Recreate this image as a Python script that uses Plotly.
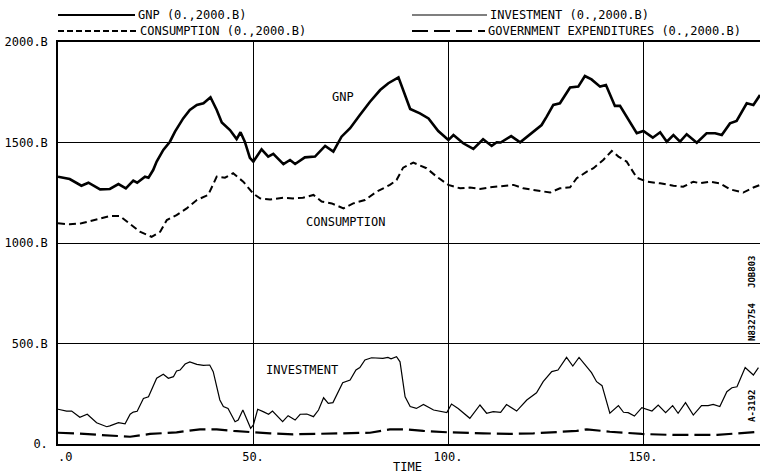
import plotly.graph_objects as go

# ---- data ----
gnp_t = [0, 3, 6, 7.8, 10.8, 13.3, 15.5, 17.4, 19.3, 20.3, 22.3, 23.2, 24.4, 25.3, 27, 28.7, 30, 32.1,
         33.8, 35.6, 37.3, 39.1, 40.7, 42, 44.1, 45.8, 46.8, 47.9, 49.2, 50.1, 52.2, 53.9, 55.2, 57.8,
         59.5, 60.8, 63.3, 65.9, 68.5, 70.6, 72.7, 74.9, 77.4, 80, 82.6, 84.7, 87.3, 89, 90.3, 92.8,
         95, 97.5, 100.1, 101.4, 103.9, 106.5, 109, 111.2, 112.5, 113.5, 116.2, 118.5, 121.9, 124,
         125.3, 127, 128.7, 131.3, 133.4, 135.1, 136.8, 139, 140.5, 142.8, 144.1, 146.2, 148.4, 150.1,
         152.5, 154.4, 156.1, 157.8, 159.5, 161.2, 163.8, 166.3, 168.5, 170.2, 172.3, 174, 176.6,
         178.3, 180]
gnp_v = [1330, 1318, 1285, 1300, 1267, 1269, 1293, 1272, 1310, 1300, 1330, 1325, 1363, 1405, 1463, 1504,
         1554, 1620, 1662, 1687, 1695, 1725, 1662, 1600, 1562, 1517, 1551, 1504, 1424, 1405, 1466, 1430,
         1443, 1392, 1413, 1393, 1426, 1430, 1483, 1455, 1529, 1571, 1637, 1703, 1761, 1795, 1824, 1736,
         1667, 1645, 1620, 1557, 1512, 1537, 1496, 1468, 1516, 1483, 1501, 1500, 1532, 1501, 1554, 1587,
         1629, 1687, 1695, 1774, 1778, 1831, 1814, 1778, 1786, 1682, 1682, 1612, 1546, 1557, 1524, 1551,
         1504, 1537, 1504, 1541, 1499, 1546, 1546, 1537, 1595, 1607, 1695, 1687, 1736]

cons_t = [0, 3, 6, 9, 10.8, 13.3, 15.9, 18.5, 21, 24, 26.2, 27.9, 30.4, 33, 35.6, 38.5, 40.7, 42.8, 44.9,
          47.5, 50.1, 51.8, 54.4, 57.8, 60.3, 62.8, 65.5, 67.6, 70.2, 73.2, 75.7, 78.7, 81.7, 85.1, 86.8,
          88.5, 91.1, 94.5, 97.1, 100.1, 103.1, 105.6, 108.2, 110.8, 113.5, 116.8, 119.3, 121.9, 126.2,
          128.7, 131.3, 133, 135.6, 137.3, 139.8, 142, 143.7, 145.8, 148.4, 151, 154.4, 157.8, 160.3,
          162.9, 164.6, 167.2, 169.7, 172.3, 175.7, 178.3, 180]
cons_v = [1098, 1093, 1098, 1114, 1123, 1134, 1134, 1093, 1056, 1031, 1056, 1114, 1139, 1172, 1214, 1239,
          1330, 1325, 1347, 1305, 1245, 1222, 1217, 1225, 1222, 1225, 1239, 1206, 1197, 1172, 1197, 1214,
          1255, 1289, 1313, 1375, 1400, 1372, 1330, 1289, 1272, 1276, 1269, 1277, 1282, 1289, 1272, 1264,
          1251, 1272, 1277, 1322, 1355, 1372, 1413, 1458, 1430, 1405, 1325, 1305, 1297, 1285, 1280, 1305,
          1297, 1305, 1297, 1267, 1251, 1276, 1289]

inv_t = [0, 2.2, 3.5, 5.6, 7.5, 9.9, 12.5, 13.3, 15.5, 17.2, 18.5, 19.3, 20.3, 21.9, 23.2, 25.3, 27, 28.3,
         29.6, 30.4, 31.3, 32.6, 33.8, 35.6, 37.3, 38.9, 39.8, 41.5, 42.4, 43.6, 45.4, 46.2, 47.4, 48.4,
         49.4, 50.1, 51.2, 52.6, 54, 55, 56.3, 57.6, 59, 60.8, 62.1, 63.8, 65.5, 66.8, 68.1, 69.3, 70.5,
         73, 74.9, 76.4, 77.4, 78.7, 80.4, 82.1, 83.3, 84.6, 85.4, 86.8, 87.7, 89, 90.3, 91.9, 93.7, 96.3,
         99.7, 100.9, 102.6, 105.6, 108.2, 109.9, 111.6, 113.5, 115, 117.6, 120.2, 122.7, 124.4, 126.6,
         128.2, 130.4, 132, 133.6, 135.1, 136.8, 138.1, 139.5, 141.5, 143.7, 145, 146.2, 147.8, 149.7,
         152.3, 153.9, 155.8, 157.6, 159, 160.9, 162.9, 165, 166.7, 168, 169.7, 171.5, 172.8, 174.1,
         176.2, 178.3, 179.6]
inv_v = [173, 164, 164, 133, 148, 106, 86, 90, 106, 100, 148, 159, 163, 227, 235, 327, 347, 327, 335, 363,
         368, 398, 408, 396, 391, 393, 360, 219, 186, 177, 111, 119, 169, 119, 78, 95, 173, 161, 148, 164,
         136, 111, 141, 119, 148, 149, 136, 169, 230, 202, 206, 305, 318, 368, 380, 418, 429, 426, 426, 431,
         424, 434, 409, 235, 186, 177, 197, 169, 156, 199, 177, 128, 194, 153, 161, 157, 196, 164, 219, 255,
         310, 360, 368, 431, 388, 431, 393, 355, 310, 290, 153, 191, 158, 156, 139, 181, 164, 194, 156, 191,
         153, 206, 144, 191, 191, 197, 186, 260, 280, 285, 380, 343, 380]

gov_t = [0, 4.5, 10.8, 18.5, 23.6, 30.4, 36.4, 40.7, 45, 50, 54.4, 60.3, 70.6, 80, 85.1, 89.3, 93.7, 100.1,
         109, 115.9, 121.9, 128.7, 133, 135.6, 141.5, 149.7, 157.8, 169, 175.8, 179.6]
gov_v = [56, 53, 45, 36, 50, 58, 73, 73, 65, 58, 53, 48, 53, 56, 73, 73, 65, 58, 53, 50, 53, 61, 65, 73, 61,
         50, 45, 45, 53, 61]

x_tickvals = [0, 50, 100, 150]
x_ticktext = ["\u00a0\u00a0.0", "50.", "100.", "150."]
y_tickvals = [0, 500, 1000, 1500, 2000]
y_ticktext = ["0.", "500.B", "1000.B", "1500.B", "2000.B"]

legend_labels = ["GNP (0.,2000.B)", "CONSUMPTION (0.,2000.B)",
                 "INVESTMENT (0.,2000.B)", "GOVERNMENT EXPENDITURES (0.,2000.B)"]

FONT = "DejaVu Sans Mono"
W, H = 760, 474
ML, MR, MT, MB = 58, 0, 42, 30
PW, PH = W - ML - MR, H - MT - MB


def px(x):
    return (x - ML) / PW


def py(y):
    return (H - MB - y) / PH


fig = go.Figure()
fig.add_trace(go.Scatter(x=gnp_t, y=gnp_v, mode="lines", line=dict(color="black", width=2.6),
                         name=legend_labels[0]))
fig.add_trace(go.Scatter(x=cons_t, y=cons_v, mode="lines", line=dict(color="black", width=2.0, dash="7px,4px"),
                         name=legend_labels[1]))
fig.add_trace(go.Scatter(x=inv_t, y=inv_v, mode="lines", line=dict(color="black", width=1.2),
                         name=legend_labels[2]))
fig.add_trace(go.Scatter(x=gov_t, y=gov_v, mode="lines", line=dict(color="black", width=2.2, dash="16px,6px"),
                         name=legend_labels[3]))

# legend drawn as header samples + text
leg = [
    (58, 135, 15, "solid", 2.0, legend_labels[0]),
    (58, 137, 31, "6px,3px", 1.8, legend_labels[1]),
    (412, 487, 15, "solid", 1.2, legend_labels[2]),
    (412, 485, 31, "16px,6px", 1.8, legend_labels[3]),
]
shapes = []
annotations = []
for x0, x1, yy, dash, wdt, lab in leg:
    shapes.append(dict(type="line", xref="paper", yref="paper", x0=px(x0), x1=px(x1), y0=py(yy), y1=py(yy),
                       line=dict(color="black", width=wdt, dash=dash)))
    annotations.append(dict(xref="paper", yref="paper", x=px(x1 + 1), y=py(yy), text=lab, showarrow=False,
                            xanchor="left", yanchor="middle", font=dict(family=FONT, size=12, color="black")))

# in-plot curve labels
for t, v, lab in [(73.1, 1726, "GNP"), (73.8, 1104, "CONSUMPTION"), (62.5, 368, "INVESTMENT")]:
    annotations.append(dict(x=t, y=v, text=lab, showarrow=False, xanchor="center", yanchor="middle",
                            font=dict(family=FONT, size=12, color="black")))

# x axis title
annotations.append(dict(xref="paper", yref="paper", x=px(407), y=py(467), text="TIME", showarrow=False,
                        xanchor="center", yanchor="middle", font=dict(family=FONT, size=12, color="black")))

# vertical plate marks on the right
for yy, lab in [(272, "JOB803"), (322, "N832754"), (406, "A-3192")]:
    annotations.append(dict(xref="paper", yref="paper", x=px(752), y=py(yy), text="<b>" + lab + "</b>",
                            showarrow=False, textangle=-90, xanchor="center", yanchor="middle",
                            font=dict(family=FONT, size=9, color="black")))

fig.update_layout(
    width=W, height=H,
    margin=dict(l=ML, r=MR, t=MT, b=MB, pad=0),
    paper_bgcolor="white", plot_bgcolor="white",
    showlegend=False,
    shapes=shapes,
    annotations=annotations,
    font=dict(family=FONT, size=12, color="black"),
    xaxis=dict(range=[0, 180], tickvals=x_tickvals, ticktext=x_ticktext, showgrid=True,
               gridcolor="black", gridwidth=1.2, showline=True, linecolor="black", linewidth=1.5,
               mirror=True, zeroline=False, ticks="", ticklabelstandoff=1,
               tickfont=dict(family=FONT, size=12, color="black")),
    yaxis=dict(range=[0, 2000], tickvals=y_tickvals, ticktext=y_ticktext, showgrid=True,
               gridcolor="black", gridwidth=1.0, showline=True, linecolor="black", linewidth=1.5,
               mirror=False, zeroline=False, ticks="", ticklabelstandoff=6,
               tickfont=dict(family=FONT, size=12, color="black")),
)

fig.write_html("out.html", config={"displayModeBar": False},
               post_script="document.body.style.margin='0';document.body.style.padding='0';"
                           "document.documentElement.style.overflow='hidden';")
